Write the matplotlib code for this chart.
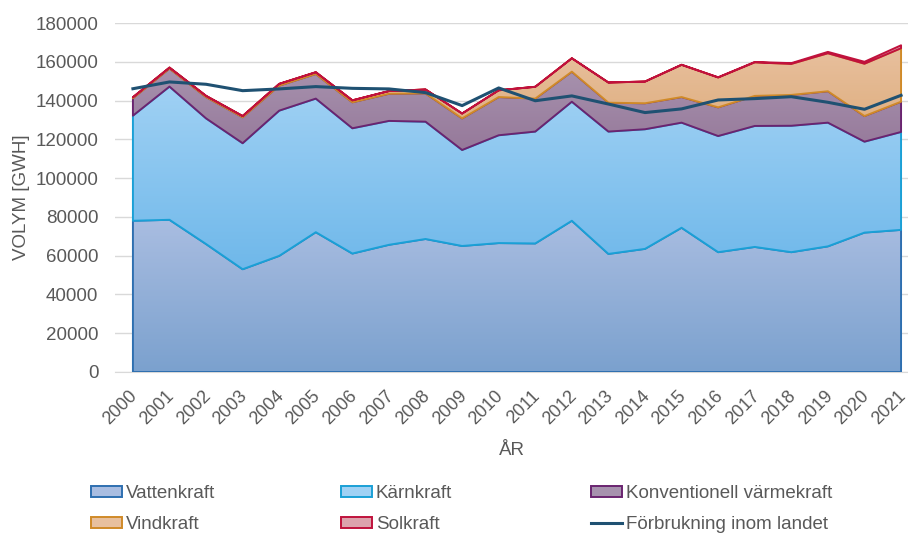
import numpy as np
import matplotlib
matplotlib.use('Agg')
import matplotlib.pyplot as plt
import matplotlib.transforms as mtransforms
from matplotlib.colors import LinearSegmentedColormap
from matplotlib.patches import Patch
from matplotlib.lines import Line2D

plt.rcParams['font.family'] = ['Liberation Sans', 'DejaVu Sans']

years = list(range(2000, 2022))
vattenkraft = [78000, 78500, 66000, 53000, 59900, 72100, 61100, 65600, 68600, 65000, 66500,
               66300, 78000, 60900, 63500, 74400, 61800, 64500, 61800, 64800, 71900, 73300]
karnkraft = [54200, 68700, 64800, 65000, 74900, 68900, 64600, 63900, 60500, 49500, 55600,
             57700, 61400, 63100, 61700, 54200, 59900, 62400, 65200, 63800, 46900, 50500]
varmekraft = [9000, 9300, 11000, 13400, 12900, 12700, 13400, 14000, 14600, 16300, 19700,
              17000, 15500, 14900, 13400, 13200, 14800, 15500, 15900, 16200, 13200, 15600]
vindkraft = [500, 500, 600, 600, 900, 900, 1000, 1400, 2000, 2500, 3500,
             6100, 6900, 10400, 11200, 16600, 15400, 17300, 16000, 19600, 27000, 27600]
solkraft = [0, 0, 0, 0, 0, 0, 0, 0, 0, 0, 0,
            0, 0, 0, 0, 100, 100, 200, 400, 700, 1000, 1500]
forbrukning = [146100, 149600, 148400, 145100, 146000, 147200, 146300, 146000, 144100, 137400, 146500,
               139900, 142400, 138200, 133800, 135700, 140300, 141000, 142000, 139100, 135500, 142700]

names = ['Vattenkraft', 'Kärnkraft', 'Konventionell värmekraft', 'Vindkraft', 'Solkraft']
series = [vattenkraft, karnkraft, varmekraft, vindkraft, solkraft]
# (top colour, bottom colour, edge colour)
styles = [('#a9bde1', '#7ba1ce', '#2e6fb0'),
          ('#a0d1f4', '#6fb8ea', '#1aa0d6'),
          ('#a792ae', '#96799a', '#6a2470'),
          ('#e8c09e', '#e0b184', '#d08a28'),
          ('#dca3ad', '#cf8895', '#c0123c')]
txt = '#595959'
fs = 13.5

fig = plt.figure(figsize=(9.08, 5.34), dpi=100)
ax = fig.add_axes([115 / 908, 1 - 372 / 534, 793 / 908, 349 / 534])

x = np.arange(len(years))
lower = np.zeros(len(years))
handles = []
for i, (name, vals, st) in enumerate(zip(names, series, styles)):
    upper = lower + np.array(vals)
    poly = ax.fill_between(x, lower, upper, facecolor='none', edgecolor=st[2],
                           linewidth=1.4, zorder=3 + 2 * i)
    cmap = LinearSegmentedColormap.from_list('g%d' % i, [st[1], st[0]])
    grad = np.linspace(0, 1, 256).reshape(-1, 1)
    img = ax.imshow(grad, extent=[0, len(years) - 1, lower.min(), max(upper.max(), lower.min() + 1)],
                    aspect='auto', cmap=cmap, origin='lower', zorder=2 + 2 * i)
    img.set_clip_path(poly.get_paths()[0], ax.transData)
    handles.append(Patch(facecolor=st[0], edgecolor=st[2], linewidth=1.4, label=name))
    lower = upper

ax.plot(x, forbrukning, color='#1f5172', linewidth=2.2, zorder=20)
handles.append(Line2D([], [], color='#1f5172', linewidth=2.2, label='Förbrukning inom landet'))

ax.set_xlim(-0.49, 21.19)
ax.set_ylim(0, 180000)
ax.set_yticks(range(0, 180001, 20000))
ax.set_xticks(x)
ax.set_xticklabels(years, rotation=45, ha='right', rotation_mode='anchor')
ax.grid(axis='y', color='#d9d9d9', linewidth=1, zorder=0)
ax.set_axisbelow(True)
for s in ['top', 'right', 'left']:
    ax.spines[s].set_visible(False)
ax.spines['bottom'].set_color('#d9d9d9')
ax.tick_params(axis='both', length=0, labelsize=fs, labelcolor=txt)
ax.tick_params(axis='x', labelsize=13, pad=11)
ax.tick_params(axis='y', pad=12)
shift = mtransforms.ScaledTranslation(-4 / 100, 0, fig.dpi_scale_trans)
for lab in ax.get_xticklabels():
    lab.set_transform(lab.get_transform() + shift)
ax.set_xlabel('ÅR', fontsize=fs, color=txt, labelpad=10)
ax.set_ylabel('VOLYM [GWH]', fontsize=fs, color=txt, labelpad=4)

# legend in three columns, two rows each
cols = [(handles[0], handles[3]), (handles[1], handles[4]), (handles[2], handles[5])]
xs = [91, 341, 591]
for cx, hs in zip(xs, cols):
    leg = fig.legend(handles=list(hs), loc='upper left', bbox_to_anchor=(cx / 908, 1 - 485 / 534),
                     frameon=False, fontsize=fs, handlelength=1.65, handleheight=0.5,
                     handletextpad=0.2, labelspacing=0.75, borderaxespad=0, borderpad=0)
    for t in leg.get_texts():
        t.set_color(txt)

fig.savefig('out.png', dpi=100)
